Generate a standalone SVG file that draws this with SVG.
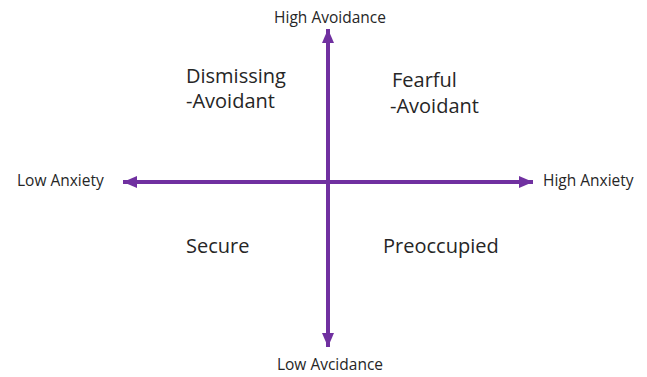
<svg xmlns="http://www.w3.org/2000/svg" width="647" height="377" viewBox="0 0 647 377">
<style>
.axis{stroke:#7030A0;stroke-width:4;fill:none}
.lbl{font-family:"Open Sans","Liberation Sans",sans-serif;font-size:15.5px;fill:#262626}
.q{font-family:"Open Sans","Liberation Sans",sans-serif;font-size:20px;fill:#262626}
</style>
<defs>
<marker id="ah" markerUnits="userSpaceOnUse" markerWidth="16" markerHeight="14" refX="14" refY="6" orient="auto">
<path d="M0,0 L14,6 L0,12 Z" fill="#7030A0"/>
</marker>
</defs>
<rect width="647" height="377" fill="#ffffff"/>
<g id="connectors">
<line class="axis" x1="328" y1="182" x2="328" y2="29" marker-end="url(#ah)"/>
<line class="axis" x1="328" y1="182" x2="328" y2="347" marker-end="url(#ah)"/>
<line class="axis" x1="328" y1="182" x2="123" y2="182" marker-end="url(#ah)"/>
<line class="axis" x1="328" y1="182" x2="533" y2="182" marker-end="url(#ah)"/>
</g>
<g id="high-avoidance"><text class="lbl" x="330" y="23" text-anchor="middle">High Avoidance</text></g>
<g id="low-avoidance"><text class="lbl" x="330" y="370" text-anchor="middle">Low Avcidance</text></g>
<g id="low-anxiety"><text class="lbl" x="17" y="186">Low Anxiety</text></g>
<g id="high-anxiety"><text class="lbl" x="543" y="186">High Anxiety</text></g>
<g id="dismissing"><text class="q" x="186" y="83">Dismissing</text><text class="q" x="186" y="108">-Avoidant</text></g>
<g id="fearful"><text class="q" x="392" y="87">Fearful</text><text class="q" x="390" y="113">-Avoidant</text></g>
<g id="secure"><text class="q" x="186" y="253">Secure</text></g>
<g id="preoccupied"><text class="q" x="383" y="253">Preoccupied</text></g>
</svg>
